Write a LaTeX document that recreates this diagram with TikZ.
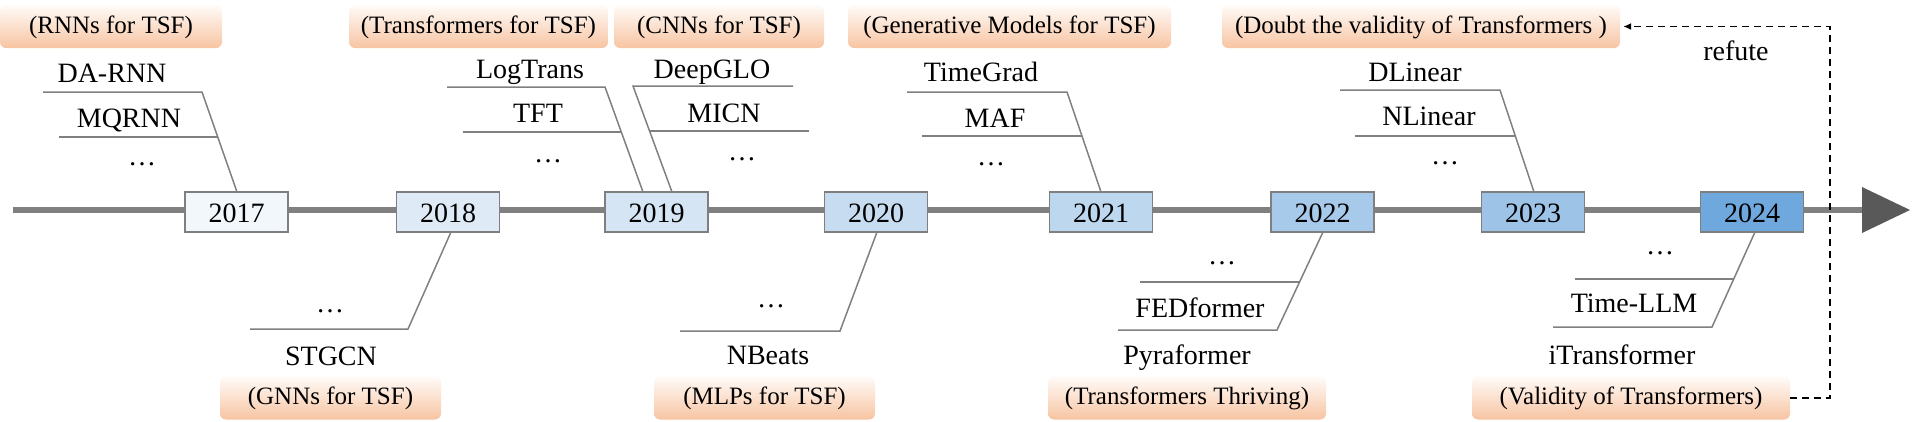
\documentclass[tikz,border=0pt]{standalone}
\usepackage{fontspec}
\setmainfont{Liberation Serif}
\usetikzlibrary{arrows.meta}
\definecolor{axisgray}{HTML}{808080}
\definecolor{axisdark}{HTML}{595959}
\definecolor{boxgray}{HTML}{7F7F7F}
\definecolor{leadgray}{HTML}{808080}
\definecolor{catTop}{HTML}{FFFBF8}
\definecolor{catBot}{HTML}{F7C4A2}
\definecolor{c17}{HTML}{F2F7FC}
\definecolor{c18}{HTML}{DEEBF7}
\definecolor{c19}{HTML}{D5E5F4}
\definecolor{c20}{HTML}{C7DCF0}
\definecolor{c21}{HTML}{BDD7EE}
\definecolor{c22}{HTML}{A8CAEA}
\definecolor{c23}{HTML}{9DC3E6}
\definecolor{c24}{HTML}{6FA8DC}
\begin{document}
\begin{tikzpicture}[x=1pt,y=-1pt,
  yearbox/.style={draw=boxgray, line width=1.8pt, minimum width=103pt, minimum height=40pt,
    inner sep=0pt, text height=20pt, text depth=0pt, font=\fontsize{28}{30}\selectfont},
  model/.style={anchor=base, inner sep=0pt, font=\fontsize{28}{30}\selectfont},
  catbox/.style={rounded corners=6pt, top color=catTop, bottom color=catBot, inner sep=0pt,
    minimum height=43pt, text height=18pt, text depth=5pt, font=\fontsize{25}{27}\selectfont},
  leader/.style={draw=leadgray, line width=1.5pt},
  axisline/.style={draw=axisgray, line width=6pt},
  dasharrow/.style={draw=black, line width=1.6pt, dash pattern=on 7pt off 5pt, -{Latex[length=8pt,width=7pt]}, shorten >=3pt}
]
\useasboundingbox (0,0) rectangle (1913,421);

% timeline
\coordinate (tl0) at (13,210);
\coordinate (tl1) at (1863,210);
\draw[axisline] (tl0) -- (tl1);
\fill[axisdark] (1862,187) -- (1910,210) -- (1862,233) -- cycle;

% year boxes
\node[yearbox, fill=c17] (y17) at (236.5,212) {2017};
\node[yearbox, fill=c18] (y18) at (448,212) {2018};
\node[yearbox, fill=c19] (y19) at (656.5,212) {2019};
\node[yearbox, fill=c20] (y20) at (876,212) {2020};
\node[yearbox, fill=c21] (y21) at (1101,212) {2021};
\node[yearbox, fill=c22] (y22) at (1322.5,212) {2022};
\node[yearbox, fill=c23] (y23) at (1533,212) {2023};
\node[yearbox, fill=c24] (y24) at (1752,212) {2024};

% category boxes
\node[catbox, minimum width=222pt] (rnn) at (111,26.5) {(RNNs for TSF)};
\node[catbox, minimum width=259pt] (trf) at (478.5,26.5) {(Transformers for TSF)};
\node[catbox, minimum width=210pt] (cnn) at (719,26.5) {(CNNs for TSF)};
\node[catbox, minimum width=323pt] (gen) at (1009.5,26.5) {(Generative Models for TSF)};
\node[catbox, minimum width=398pt] (doubt) at (1421,26.5) {(Doubt the validity of Transformers )};
\node[catbox, minimum width=221pt] (gnn) at (330.5,398) {(GNNs for TSF)};
\node[catbox, minimum width=221pt] (mlp) at (764.5,398) {(MLPs for TSF)};
\node[catbox, minimum width=278pt] (thr) at (1187,398) {(Transformers Thriving)};
\node[catbox, minimum width=318pt] (val) at (1631,398) {(Validity of Transformers)};

% model names
\node[model] (darnn) at (112,82) {DA-RNN};
\node[model] (mqrnn) at (129,127) {MQRNN};
\node[model] (d17) at (142,165) {\dots};
\node[model] (logt) at (530,78) {LogTrans};
\node[model] (tft) at (538,122) {TFT};
\node[model] (d19a) at (548,162) {\dots};
\node[model] (dglo) at (712,78) {DeepGLO};
\node[model] (micn) at (724,122) {MICN};
\node[model] (d19b) at (742,160) {\dots};
\node[model] (tgrad) at (981,81) {TimeGrad};
\node[model] (maf) at (995,127) {MAF};
\node[model] (d21) at (991,165) {\dots};
\node[model] (dlin) at (1415,81) {DLinear};
\node[model] (nlin) at (1429,125) {NLinear};
\node[model] (d23) at (1445,164) {\dots};
\node[model] (refute) at (1736,60) {refute};
\node[model] (d18) at (330,312) {\dots};
\node[model] (stgcn) at (331,365) {STGCN};
\node[model] (d20) at (771,307) {\dots};
\node[model] (nbeats) at (768,364) {NBeats};
\node[model] (d22) at (1222,264) {\dots};
\node[model] (fed) at (1200,317) {FEDformer};
\node[model] (pyra) at (1187,364) {Pyraformer};
\node[model] (d24) at (1660,254) {\dots};
\node[model] (tllm) at (1634,312) {Time-LLM};
\node[model] (itr) at (1622,364) {iTransformer};

% leader lines: 2017
\coordinate (s17) at (237,192);
\coordinate (k17) at (202,92);
\coordinate (l17a) at (43,92);
\coordinate (l17b) at (59,137);
\coordinate (m17b) at (217.75,137);
\draw[leader] (l17a) -- (k17) -- (s17);
\draw[leader] (l17b) -- (m17b);
% 2018
\coordinate (s18) at (451,232);
\coordinate (k18) at (408,329);
\coordinate (l18) at (250,329);
\draw[leader] (s18) -- (k18) -- (l18);
% 2019 left
\coordinate (s19a) at (643,192);
\coordinate (k19a) at (605,87);
\coordinate (l19a) at (447,87);
\coordinate (l19b) at (463,132);
\coordinate (m19b) at (621.3,132);
\draw[leader] (l19a) -- (k19a) -- (s19a);
\draw[leader] (l19b) -- (m19b);
% 2019 right
\coordinate (s19c) at (672,192);
\coordinate (k19c) at (633,86);
\coordinate (r19c) at (793,86);
\coordinate (m19d) at (649.6,131);
\coordinate (r19d) at (809,131);
\draw[leader] (r19c) -- (k19c) -- (s19c);
\draw[leader] (m19d) -- (r19d);
% 2020
\coordinate (s20) at (877,232);
\coordinate (k20) at (840,331);
\coordinate (l20) at (680,331);
\draw[leader] (s20) -- (k20) -- (l20);
% 2021
\coordinate (s21) at (1101,192);
\coordinate (k21) at (1067,92);
\coordinate (l21a) at (907,92);
\coordinate (l21b) at (922,136);
\coordinate (m21b) at (1082,136);
\draw[leader] (l21a) -- (k21) -- (s21);
\draw[leader] (l21b) -- (m21b);
% 2022
\coordinate (s22) at (1323,232);
\coordinate (k22) at (1277,330);
\coordinate (l22b) at (1118,330);
\coordinate (l22a) at (1140,282);
\coordinate (m22a) at (1299.5,282);
\draw[leader] (s22) -- (k22) -- (l22b);
\draw[leader] (l22a) -- (m22a);
% 2023
\coordinate (s23) at (1534,192);
\coordinate (k23) at (1500,90);
\coordinate (l23a) at (1340,90);
\coordinate (l23b) at (1355,136);
\coordinate (m23b) at (1515.3,136);
\draw[leader] (l23a) -- (k23) -- (s23);
\draw[leader] (l23b) -- (m23b);
% 2024
\coordinate (s24) at (1755,232);
\coordinate (k24) at (1712,327);
\coordinate (l24b) at (1553,327);
\coordinate (l24a) at (1575,279);
\coordinate (m24a) at (1733.7,279);
\draw[leader] (s24) -- (k24) -- (l24b);
\draw[leader] (l24a) -- (m24a);

% refute connector
\coordinate (dashx) at (1830,0);
\draw[dasharrow] (val.east) -| (doubt.east -| dashx) -- (doubt.east);
\end{tikzpicture}
\end{document}
